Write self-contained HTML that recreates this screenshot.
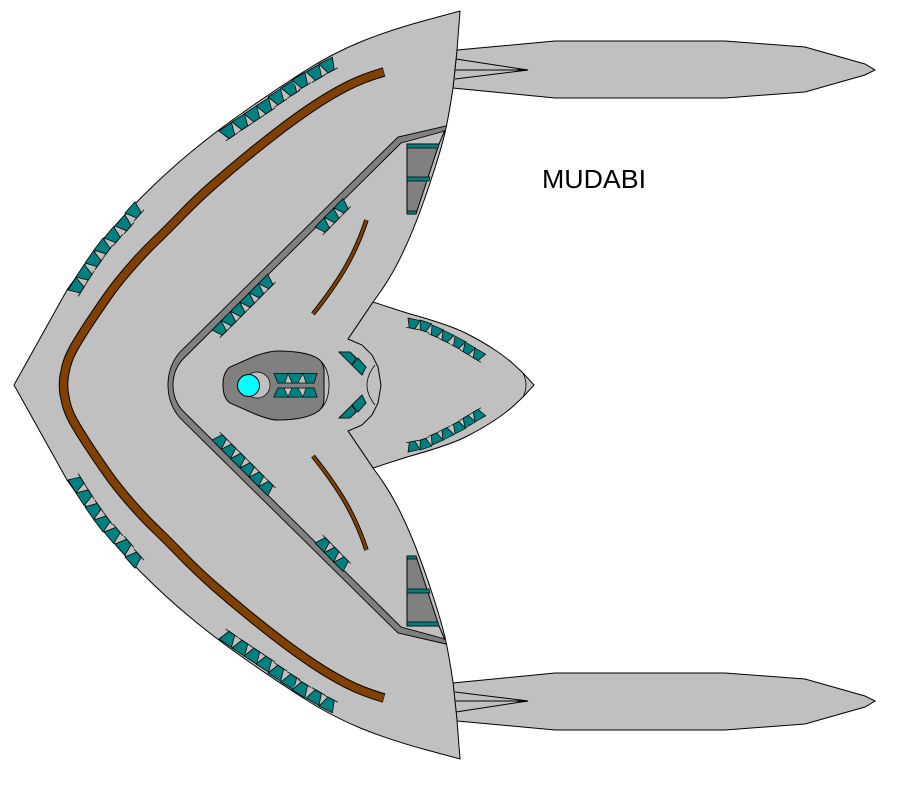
<!DOCTYPE html>
<html><head><meta charset="utf-8"><style>html,body{margin:0;padding:0;background:#fff}svg{display:block}</style></head>
<body>
<svg width="900" height="800" viewBox="0 0 900 800" xmlns="http://www.w3.org/2000/svg">
<defs>
<g id="t15" stroke="#000" stroke-width="0.8"><polygon points="0,0 15,0 15,12 0,12" fill="#c0c0c0" stroke="none"/><polygon points="0,0 15,0 11,12 4,12" fill="#008080"/><path d="M0,12H15" fill="none"/></g>
<g id="t13" stroke="#000" stroke-width="0.8"><polygon points="0,0 13,0 13,11 0,11" fill="#c0c0c0" stroke="none"/><polygon points="0,0 13,0 9.500,11 3.500,11" fill="#008080"/><path d="M0,11H13" fill="none"/></g>
<g id="half">
<!-- nacelle -->
<polygon points="457,50 555,41 725,41 805,47 865,64 875,70 865,75 805,92 725,98 555,98 453,88" fill="#c0c0c0" stroke="#000"/>
<path d="M456,59L528,70L455,79M455,70H528" fill="none" stroke="#000"/>
<path d="M518,69L528,70L518,71Z" fill="#000" stroke="#000"/>
</g>
<g id="deck">
<!-- trench -->
<path d="M446,126L398,137L180,352Q168,366 168,385L173,385Q173,369 184,358L401,143L445,131Z" fill="#808080"/>
<path d="M446,126L398,137L180,352Q168,366 168,385M173,385Q173,369 184,358L401,143L445,131" fill="none" stroke="#000" stroke-width="0.9"/>
<!-- side panel -->
<polygon points="407,144 439,144 416,214 407,214" fill="#808080" stroke="#000"/>
<polygon points="407,144 439,144 438,148 407,148" fill="#008080" stroke="#000" stroke-width="0.7"/>
<polygon points="407,177 430,177 429,181 407,181" fill="#008080" stroke="#000" stroke-width="0.7"/>
<polygon points="407,211 417,211 416,214 407,214" fill="#008080" stroke="#000" stroke-width="0.7"/>
<path d="M445,130L439,144" fill="none" stroke="#000"/>
<!-- brown bands -->
<path d="M384,72Q363,78 346.500,86.500Q330,95 313.500,106Q297,117 280,130Q263,143 246.500,156.500Q230,170 213.500,184.500Q197,199 182,214.500Q167,230 155,241.500Q143,253 130,268Q117,283 108.500,295Q100,307 90,322Q80,337 73.500,348.500Q67,360 65,372Q63.500,378 63.500,385" fill="none" stroke="#000" stroke-width="9.500"/>
<path d="M383.500,72Q363,78 346.500,86.500Q330,95 313.500,106Q297,117 280,130Q263,143 246.500,156.500Q230,170 213.500,184.500Q197,199 182,214.500Q167,230 155,241.500Q143,253 130,268Q117,283 108.500,295Q100,307 90,322Q80,337 73.500,348.500Q67,360 65,372Q63.500,378 63.500,385" fill="none" stroke="#804000" stroke-width="7.500"/>
<path d="M366.500,220C355,255 340,280 313,314" fill="none" stroke="#000" stroke-width="4.500"/>
<path d="M366.500,220C355,255 340,280 313,314" fill="none" stroke="#804000" stroke-width="2.800"/>
<!-- hull outer strip -->
<use href="#t15" transform="translate(219,131) rotate(-34)"/>
<use href="#t15" transform="translate(232,122) rotate(-33)"/>
<use href="#t15" transform="translate(244,114) rotate(-33)"/>
<use href="#t15" transform="translate(256,106) rotate(-33)"/>
<use href="#t15" transform="translate(268,97) rotate(-33)"/>
<use href="#t15" transform="translate(281,88) rotate(-32)"/>
<use href="#t15" transform="translate(292,80) rotate(-31)"/>
<use href="#t15" transform="translate(306,72) rotate(-30)"/>
<use href="#t15" transform="translate(319,64) rotate(-27)"/>
<!-- left strip -->
<use href="#t15" transform="translate(68,290) rotate(-58)"/>
<use href="#t15" transform="translate(76,277) rotate(-57)"/>
<use href="#t15" transform="translate(85,263) rotate(-55)"/>
<use href="#t15" transform="translate(94,250) rotate(-53)"/>
<use href="#t15" transform="translate(104,238) rotate(-50)"/>
<use href="#t15" transform="translate(115,226) rotate(-49)"/>
<use href="#t15" transform="translate(125,213) rotate(-48)"/>
<!-- inner strips -->
<use href="#t13" transform="translate(212,330) rotate(-45)"/>
<use href="#t13" transform="translate(221.300,320.700) rotate(-45)"/>
<use href="#t13" transform="translate(230.600,311.400) rotate(-45)"/>
<use href="#t13" transform="translate(239.900,302.100) rotate(-45)"/>
<use href="#t13" transform="translate(249.200,292.800) rotate(-45)"/>
<use href="#t13" transform="translate(258.500,283.500) rotate(-45)"/>
<use href="#t13" transform="translate(315,227) rotate(-45)"/>
<use href="#t13" transform="translate(324.400,217.400) rotate(-45)"/>
<use href="#t13" transform="translate(333.800,207.800) rotate(-45)"/>
<!-- fin strip -->
<use href="#t13" transform="translate(408,318) rotate(12) scale(.95,.85)"/>
<use href="#t13" transform="translate(420,320) rotate(18) scale(.95,.85)"/>
<use href="#t13" transform="translate(432,325) rotate(23) scale(.95,.85)"/>
<use href="#t13" transform="translate(443,330) rotate(26) scale(.95,.85)"/>
<use href="#t13" transform="translate(455,336) rotate(28) scale(.95,.85)"/>
<use href="#t13" transform="translate(465,342) rotate(30) scale(.95,.85)"/>
<use href="#t13" transform="translate(475,348) rotate(30) scale(.95,.85)"/>
<!-- small centre teeth -->
<polygon points="339,352 350,352 366,367 362,375" fill="#c0c0c0" stroke="#000" stroke-width="0.8"/>
<polygon points="339,352 350,352 356,358 352,365" fill="#008080" stroke="#000" stroke-width="0.8"/>
<polygon points="352,365 358,358 366,367 362,375" fill="#008080" stroke="#000" stroke-width="0.8"/>
</g>
</defs>

<use href="#half"/>
<use href="#half" transform="matrix(1 0 0 -1 0 771)"/>

<!-- centre fin -->
<path d="M373,302L407,313Q450,325 466.500,333.500Q483,342 495,350Q507,358 515,365.500L523,373L534,385L523,397L515,404.500Q507,412 495,420Q483,428 466.500,436.500Q450,445 407,457L373,468L348,431L348,339Z" fill="#c0c0c0" stroke="#000"/>
<path d="M523,373Q529,385 523,397" fill="none" stroke="#000" stroke-width="0.8"/>

<!-- hull -->
<path d="M14,385L67,290Q100,243 117.500,223Q135,203 155,184Q175,165 196.500,147.500Q218,130 246.500,110Q275,90 304,71.500Q333,53 361.500,41.500Q390,30 425,20.500L460,11L457,50L453,88Q449,115 445,132.500Q441,150 430,183Q416,225 404,250Q392,277 373,302L348,339L362,345L372,355L378,367L381,385L378,403L372,415L362,425L348,431L373,468Q392,493 404,520Q416,545 430,587Q441,620 445,637.500Q449,655 453,682L457,720L460,759L425,749.500Q390,740 361.500,728.500Q333,717 304,698.500Q275,680 246.500,660Q218,640 196.500,622.500Q175,605 155,586Q135,567 117.500,547Q100,527 67,480Z" fill="#c0c0c0" stroke="#000"/>
<path d="M375,365Q367,375 367,385Q367,395 375,405" fill="none" stroke="#000" stroke-width="0.8"/>

<use href="#deck"/>
<use href="#deck" transform="matrix(1 0 0 -1 0 770)"/>

<!-- cockpit -->
<path d="M317,358Q329,366 329,385Q329,404 317,412" fill="#c0c0c0" stroke="#000" stroke-width="0.8"/>
<path d="M223,385Q223,372 230,367L255,356Q270,351 277,351Q305,351 317,358Q324,362 324,372L324,398Q324,408 317,412Q305,420 277,420Q270,420 255,414L230,403Q223,398 223,385Z" fill="#808080" stroke="#000"/>
<circle cx="257" cy="385" r="13" fill="#c0c0c0" stroke="#000" stroke-width="0.7"/>
<circle cx="248.500" cy="385.500" r="11" fill="#00ffff" stroke="#000"/>
<polygon points="274,373.500 317,373.500 314,383 278,383" fill="#c0c0c0" stroke="#000" stroke-width="0.8"/>
<polygon points="278,388 314,388 317,397 274,397" fill="#c0c0c0" stroke="#000" stroke-width="0.8"/>
<g fill="#008080" stroke="#000" stroke-width="0.6">
<polygon points="274,373.500 288,373.500 285,383 278,383"/>
<polygon points="288,373.500 303,373.500 298,383 292,383"/>
<polygon points="303,373.500 317,373.500 314,383 306,383"/>
<polygon points="278,388 284,388 288,397 274,397"/>
<polygon points="292,388 298,388 303,397 288,397"/>
<polygon points="306,388 314,388 317,397 303,397"/>
</g>

<text x="542" y="188" font-family="'Liberation Sans',Arial,sans-serif" font-size="26" textLength="104" lengthAdjust="spacingAndGlyphs" fill="#000">MUDABI</text>
</svg>
</body></html>
